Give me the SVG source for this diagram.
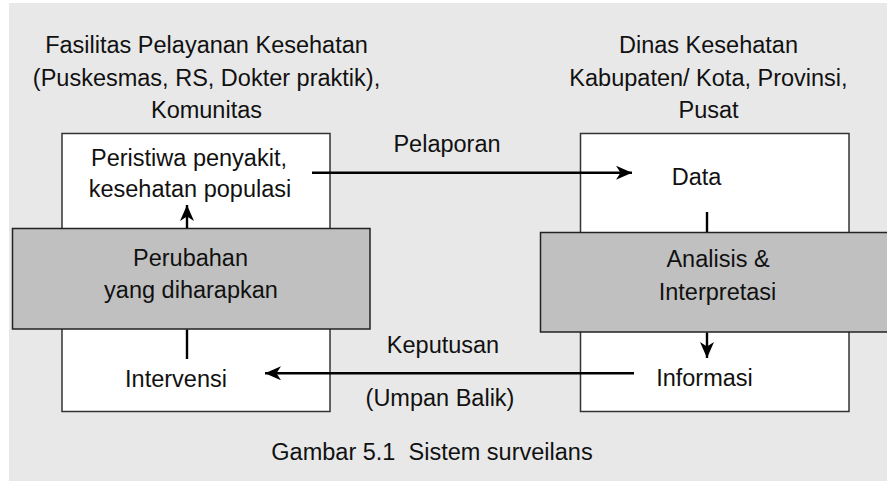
<svg xmlns="http://www.w3.org/2000/svg" width="887" height="481" viewBox="0 0 887 481">
<defs>
<style>
.t{font-family:"Liberation Sans",Arial,sans-serif;font-size:23.5px;fill:#111;text-anchor:middle}
.wb{fill:#fff;stroke:#333;stroke-width:1.5}
.gb{fill:#c0c0c0;stroke:#222;stroke-width:1.5}
.ln{stroke:#000;stroke-width:2.4;fill:none}
</style>
<marker id="ah" markerUnits="userSpaceOnUse" markerWidth="18" markerHeight="16" refX="16" refY="7" orient="auto">
<path d="M0,0 L16,7 L0,14 L4.5,7 z" fill="#000"/>
</marker>
</defs>
<rect x="0" y="0" width="887" height="481" fill="#fff"/>
<rect x="9" y="3" width="878" height="478" fill="#e8e8e8"/>
<g id="title-left">
<text class="t" x="206.5" y="53">Fasilitas Pelayanan Kesehatan</text>
<text class="t" x="206.5" y="86">(Puskesmas, RS, Dokter praktik),</text>
<text class="t" x="206.5" y="118">Komunitas</text>
</g>
<g id="title-right">
<text class="t" x="708.5" y="53">Dinas Kesehatan</text>
<text class="t" x="708.5" y="86">Kabupaten/ Kota, Provinsi,</text>
<text class="t" x="708.5" y="118">Pusat</text>
</g>
<g id="left-box">
<rect class="wb" x="62" y="133.5" width="268" height="278"/>
<text class="t" x="189" y="166">Peristiwa penyakit,</text>
<text class="t" x="190" y="197">kesehatan populasi</text>
<text class="t" x="176" y="387">Intervensi</text>
</g>
<g id="right-box">
<rect class="wb" x="580.5" y="133.5" width="268.5" height="278"/>
<text class="t" x="696.5" y="185">Data</text>
<text class="t" x="704.5" y="386">Informasi</text>
</g>
<g id="perubahan">
<rect class="gb" x="12.5" y="228.5" width="357.5" height="100.5"/>
<text class="t" x="190.5" y="266">Perubahan</text>
<text class="t" x="191" y="298">yang diharapkan</text>
</g>
<g id="analisis">
<rect class="gb" x="540.5" y="232.5" width="360" height="99.5"/>
<text class="t" x="718" y="267">Analisis &amp;</text>
<text class="t" x="717.5" y="300">Interpretasi</text>
</g>
<g id="connectors">
<line class="ln" x1="312" y1="172.7" x2="632" y2="172.7" marker-end="url(#ah)"/>
<line class="ln" x1="634" y1="373.3" x2="265" y2="373.3" marker-end="url(#ah)"/>
<line class="ln" x1="187" y1="228" x2="187" y2="205" marker-end="url(#ah)"/>
<line class="ln" x1="187" y1="329.5" x2="187" y2="359"/>
<line class="ln" x1="707" y1="212" x2="707" y2="232"/>
<line class="ln" x1="707" y1="332.5" x2="707" y2="358" marker-end="url(#ah)"/>
</g>
<g id="labels">
<text class="t" x="447" y="152">Pelaporan</text>
<text class="t" x="443" y="353">Keputusan</text>
<text class="t" x="440" y="406">(Umpan Balik)</text>
<text class="t" x="432" y="460" xml:space="preserve" style="white-space:pre">Gambar 5.1  Sistem surveilans</text>
</g>
</svg>
